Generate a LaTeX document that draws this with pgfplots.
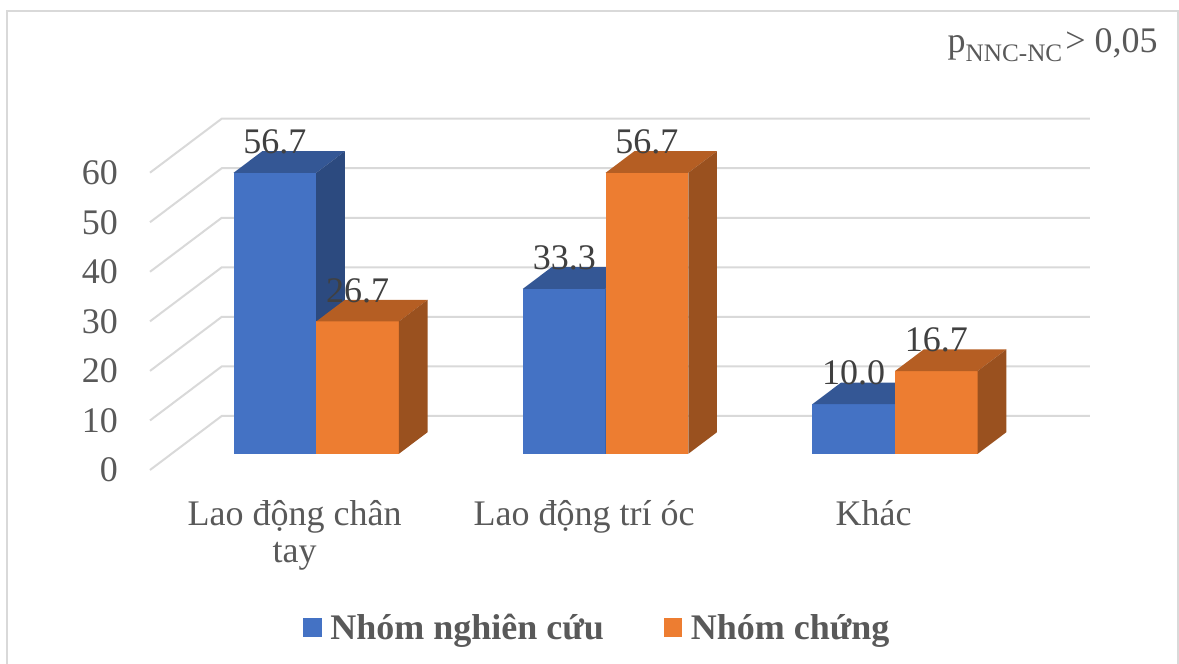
\documentclass[border=0pt]{standalone}
\usepackage{fontspec}
\setmainfont{Liberation Serif}
\usepackage{pgfplots}
\pgfplotsset{compat=1.18}

\definecolor{gridc}{HTML}{D9D9D9}
\definecolor{txt}{HTML}{595959}
\definecolor{lbl}{HTML}{404040}
\definecolor{bFront}{HTML}{4472C4}
\definecolor{bTop}{HTML}{345795}
\definecolor{bSide}{HTML}{2C4A7F}
\definecolor{oFront}{HTML}{ED7D31}
\definecolor{oTop}{HTML}{B55E23}
\definecolor{oSide}{HTML}{9A511F}

\tikzset{
  vlabel/.style={anchor=base, yshift=9.7pt, text=lbl, inner sep=0pt,
    font=\fontsize{18}{21}\selectfont},
  tlabel/.style={anchor=east, xshift=-15.9pt, text=txt, inner sep=0pt,
    font=\fontsize{18}{21}\selectfont},
  clabel/.style={anchor=base, text=txt, inner sep=0pt,
    font=\fontsize{18}{21}\selectfont},
}

% one 3D column: x0, x1, value, front, top and side colours
\newcommand\colbox[6]{%
  \addplot3[fill=#4, draw=none, no marks] coordinates
    {(#1,0.3,0) (#2,0.3,0) (#2,0.3,#3) (#1,0.3,#3)};
  \addplot3[fill=#5, draw=none, no marks] coordinates
    {(#1,0.3,#3) (#2,0.3,#3) (#2,0.7,#3) (#1,0.7,#3)};
  \addplot3[fill=#6, draw=none, no marks] coordinates
    {(#2,0.3,0) (#2,0.7,0) (#2,0.7,#3) (#2,0.3,#3)};
  \pgfmathsetmacro\xc{(#1+#2)/2}%
  \edef\tmp{\noexpand\node[vlabel] at (axis cs:\xc,0.3,#3) {#3};}%
  \tmp
}

\begin{document}
\begin{tikzpicture}
\begin{axis}[
  hide axis, clip=false,
  x={(144.7pt,0pt)}, y={(35.85pt,27pt)}, z={(0pt,2.4775pt)},
  xmin=0, xmax=3, ymin=0, ymax=1, zmin=0, zmax=60,
]
  % gridlines on the side wall and the back wall
  \pgfplotsinvokeforeach{0,10,...,60}{
    \addplot3[gridc, line width=1pt, no marks] coordinates
      {(0,0,#1) (0,1,#1) (3,1,#1)};
    \node[tlabel] at (axis cs:0,0,#1) {#1};
  }

  % Lao động chân tay
  \colbox{0.2143}{0.5}{56.7}{bFront}{bTop}{bSide}
  \colbox{0.5}{0.7857}{26.7}{oFront}{oTop}{oSide}
  % Lao động trí óc
  \colbox{1.2143}{1.5}{33.3}{bFront}{bTop}{bSide}
  \colbox{1.5}{1.7857}{56.7}{oFront}{oTop}{oSide}
  % Khác
  \colbox{2.2143}{2.5}{10.0}{bFront}{bTop}{bSide}
  \colbox{2.5}{2.7857}{16.7}{oFront}{oTop}{oSide}

  \node[clabel, yshift=-27.5pt] at (axis cs:0.5,0,0) {Lao động chân};
  \node[clabel, yshift=-46pt] at (axis cs:0.5,0,0) {tay};
  \node[clabel, yshift=-27.5pt] at (axis cs:1.5,0,0) {Lao động trí óc};
  \node[clabel, yshift=-27.5pt] at (axis cs:2.5,0,0) {Khác};

  \coordinate (O) at (axis cs:0,0,0);
\end{axis}

\pgfresetboundingbox
\begin{scope}[shift={(O)}]
\begin{scope}[shift={(-75pt,235pt)}, x=0.5pt, y=-0.5pt]
  \path[use as bounding box] (0,0) rectangle (1179,664);
  % chart frame
  \draw[gridc, line width=1pt] (6.7,11) rectangle (1178.3,690);
  % legend
  \fill[bFront] (303.3,618.3) rectangle (321.7,636.7);
  \node[anchor=base west, inner sep=0pt, text=txt,
        font=\fontsize{18}{21}\selectfont\bfseries] at (330,639.3) {Nhóm nghiên cứu};
  \fill[oFront] (664,618.3) rectangle (682.4,636.7);
  \node[anchor=base west, inner sep=0pt, text=txt,
        font=\fontsize{18}{21}\selectfont\bfseries] at (690.5,639.3) {Nhóm chứng};
  % significance note
  \node[anchor=base east, inner sep=0pt, text=txt,
        font=\fontsize{18}{21}\selectfont] at (1158,53)
    {p\raisebox{-4.5pt}{\fontsize{12.6}{14}\selectfont NNC-NC}\kern1.5pt>\ 0,05};
\end{scope}
\end{scope}
\end{tikzpicture}
\end{document}
